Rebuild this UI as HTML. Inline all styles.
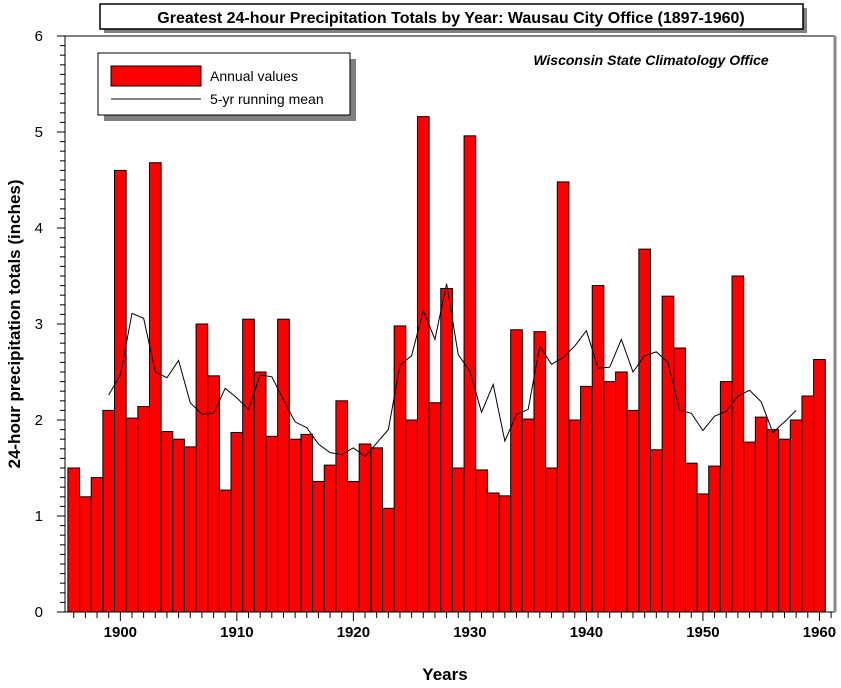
<!DOCTYPE html>
<html><head><meta charset="utf-8"><style>
body{margin:0;background:#fff;}
svg text{font-family:"Liberation Sans",Arial,sans-serif;}
</style></head><body>
<svg width="841" height="683" viewBox="0 0 841 683" xmlns="http://www.w3.org/2000/svg">
<rect x="0" y="0" width="841" height="683" fill="#fff"/>
<g id="plot"></g>
<g>
<rect x="104" y="8" width="703" height="25" fill="#808080"/>
<rect x="100" y="4" width="703" height="25" fill="#fff" stroke="#000" stroke-width="1.5"/>
<text x="451" y="23" text-anchor="middle" font-size="16" font-weight="bold">Greatest 24-hour Precipitation Totals by Year: Wausau City Office (1897-1960)</text>
</g>
<text x="651" y="65" text-anchor="middle" font-size="14" font-weight="bold" font-style="italic">Wisconsin State Climatology Office</text>
<g>
<rect x="104" y="59" width="252" height="62" fill="#808080"/>
<rect x="98" y="53" width="252" height="62" fill="#fff" stroke="#000" stroke-width="1"/>
<rect x="111" y="66" width="90" height="20" fill="#ff0000" stroke="#000"/>
<text x="210" y="81" font-size="14">Annual values</text>
<line x1="111" y1="99" x2="201" y2="99" stroke="#000" stroke-width="1"/>
<text x="210" y="104" font-size="14">5-yr running mean</text>
</g>
<text x="0" y="0" transform="translate(20,324) rotate(-90)" text-anchor="middle" font-size="17" font-weight="bold">24-hour precipitation totals (inches)</text>
<text x="445" y="680" text-anchor="middle" font-size="17" font-weight="bold">Years</text>
</svg>
<script>
const years=[1896,1897,1898,1899,1900,1901,1902,1903,1904,1905,1906,1907,1908,1909,1910,1911,1912,1913,1914,1915,1916,1917,1918,1919,1920,1921,1922,1923,1924,1925,1926,1927,1928,1929,1930,1931,1932,1933,1934,1935,1936,1937,1938,1939,1940,1941,1942,1943,1944,1945,1946,1947,1948,1949,1950,1951,1952,1953,1954,1955,1956,1957,1958,1959,1960];
const annualValues=[1.50,1.20,1.40,2.10,4.60,2.02,2.14,4.68,1.88,1.80,1.72,3.00,2.46,1.27,1.87,3.05,2.50,1.83,3.05,1.80,1.85,1.36,1.53,2.20,1.36,1.75,1.71,1.08,2.98,2.00,5.16,2.18,3.37,1.50,4.96,1.48,1.24,1.21,2.94,2.01,2.92,1.50,4.48,2.00,2.35,3.40,2.40,2.50,2.10,3.78,1.69,3.29,2.75,1.55,1.23,1.52,2.40,3.50,1.77,2.03,1.90,1.80,2.00,2.25,2.63];
const meanYears=[1899,1900,1901,1902,1903,1904,1905,1906,1907,1908,1909,1910,1911,1912,1913,1914,1915,1916,1917,1918,1919,1920,1921,1922,1923,1924,1925,1926,1927,1928,1929,1930,1931,1932,1933,1934,1935,1936,1937,1938,1939,1940,1941,1942,1943,1944,1945,1946,1947,1948,1949,1950,1951,1952,1953,1954,1955,1956,1957,1958];
const meanValues=[2.26,2.47,3.11,3.06,2.50,2.44,2.62,2.18,2.06,2.07,2.33,2.23,2.11,2.47,2.45,2.21,1.98,1.92,1.75,1.66,1.64,1.71,1.62,1.76,1.90,2.57,2.67,3.14,2.84,3.42,2.68,2.51,2.08,2.37,1.78,2.06,2.11,2.77,2.58,2.65,2.77,2.93,2.54,2.55,2.84,2.50,2.67,2.71,2.60,2.10,2.07,1.89,2.04,2.09,2.25,2.31,2.19,1.87,1.98,2.10];
const xTickLabels=[1900,1910,1920,1930,1940,1950,1960];
const yTickLabels=[0,1,2,3,4,5,6];

const NS="http://www.w3.org/2000/svg";
const L=65,R=834,T=36,B=612;
const xMin=1895.25,xMax=1961.25,yMax=6;
const x=v=>L+(v-xMin)/(xMax-xMin)*(R-L);
const y=v=>B-v/yMax*(B-T);
const bw=x(1)-x(0);
const g=document.getElementById('plot');
function mk(tag,attrs){const e=document.createElementNS(NS,tag);for(const k in attrs)e.setAttribute(k,attrs[k]);g.appendChild(e);return e;}

const frame=mk('rect',{x:L,y:T,width:R-L,height:B-T,fill:'none',stroke:'#000','stroke-width':1});


const rb=mk('line',{x1:R+1,y1:T,x2:R+1,y2:B,stroke:'#888','stroke-width':3});



years.forEach((yr,i)=>{
  const r=mk('rect',{x:x(yr)-bw/2,y:y(annualValues[i]),width:bw,height:B-y(annualValues[i]),fill:'#ff0000',stroke:'#000','stroke-width':1});
  
  
});

const pts=meanYears.map((yr,i)=>x(yr)+','+y(meanValues[i])).join(' ');
const pl=mk('polyline',{points:pts,fill:'none',stroke:'#000','stroke-width':1});



// x ticks
for(let yr=1896;yr<=1961;yr++){
  const major=yr%10===0;
  const t=mk('line',{x1:x(yr),y1:B,x2:x(yr),y2:B+(major?9:6),stroke:'#000','stroke-width':1});
  
  
}
xTickLabels.forEach(v=>{
  const t=mk('text',{x:x(v),y:B+25,'text-anchor':'middle','font-size':15,'font-weight':'bold'});
  t.textContent=v;
  
  
});
// y ticks
for(let k=0;k<=60;k++){
  const major=k%10===0;
  const t=mk('line',{x1:L,y1:y(k/10),x2:L-(major?8:5),y2:y(k/10),stroke:'#000','stroke-width':1});
  
  
}
yTickLabels.forEach(v=>{
  const t=mk('text',{x:L-22,y:y(v)+5,'text-anchor':'end','font-size':15});
  t.textContent=v;
  
  
});
</script>
</body></html>
